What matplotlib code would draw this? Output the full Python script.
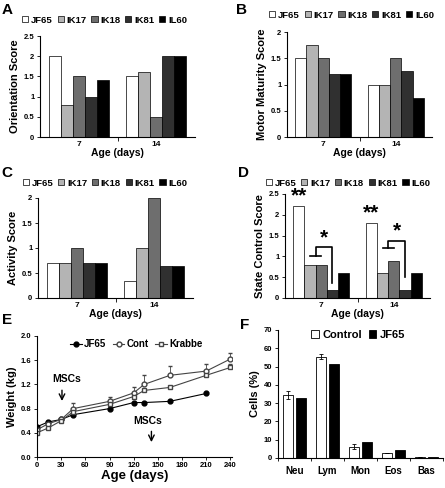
import matplotlib
matplotlib.use('Agg')
import matplotlib.pyplot as plt
from matplotlib.patches import Patch
from matplotlib.lines import Line2D
from matplotlib.ticker import FuncFormatter
import numpy as np

plt.rcParams['font.family'] = ['Liberation Sans', 'DejaVu Sans']
plt.rcParams['font.weight'] = 'bold'
plt.rcParams['axes.labelweight'] = 'bold'

# datos de los paneles de barras (A-D)
ages = ['7', '14']
strains = ['JF65', 'IK17', 'IK18', 'IK81', 'IL60']
strain_colors = ['white', '#b4b4b4', '#6e6e6e', '#303030', 'black']

orientation = [[2.0, 1.5], [0.8, 1.6], [1.5, 0.5], [1.0, 2.0], [1.4, 2.0]]
motor = [[1.5, 1.0], [1.75, 1.0], [1.5, 1.5], [1.2, 1.25], [1.2, 0.75]]
activity = [[0.7, 0.35], [0.7, 1.0], [1.0, 2.0], [0.7, 0.65], [0.7, 0.65]]
state_control = [[2.2, 1.8], [0.8, 0.6], [0.8, 0.9], [0.2, 0.2], [0.6, 0.6]]

# datos del panel E (peso)
days_jf65 = [0, 14, 30, 45, 90, 120, 133, 165, 210]
weight_jf65 = [0.50, 0.58, 0.62, 0.70, 0.80, 0.90, 0.90, 0.92, 1.05]
days_ctrl = [0, 14, 30, 45, 90, 120, 133, 165, 210, 240]
weight_cont = [0.45, 0.55, 0.62, 0.80, 0.92, 1.06, 1.20, 1.35, 1.42, 1.62]
err_cont = [0.0, 0.0, 0.0, 0.10, 0.07, 0.09, 0.15, 0.15, 0.11, 0.10]
weight_krabbe = [0.40, 0.48, 0.60, 0.75, 0.87, 1.00, 1.10, 1.15, 1.35, 1.48]
err_krabbe = [0.0, 0.0, 0.0, 0.0, 0.0, 0.0, 0.0, 0.0, 0.0, 0.05]

# datos del panel F (celulas)
cell_types = ['Neu', 'Lym', 'Mon', 'Eos', 'Bas']
cells_control = [34.5, 55.5, 6.2, 2.8, 0.5]
cells_control_err = [2.2, 1.5, 1.5, 0.2, 0.2]
cells_jf65 = [33.0, 51.5, 8.8, 4.5, 0.5]

W, H = 445, 488
fig = plt.figure(figsize=(W / 100, H / 100), dpi=100)


# convierte una caja en pixeles a coordenadas de figura
def px_axes(left, top, right, bottom):
    return fig.add_axes([left / W, 1 - bottom / H, (right - left) / W, (bottom - top) / H])


def style_axes(ax):
    ax.spines['top'].set_visible(False)
    ax.spines['right'].set_visible(False)
    for s in ['left', 'bottom']:
        ax.spines[s].set_linewidth(0.8)
    ax.tick_params(axis='y', labelsize=5.5, length=2, width=0.6, pad=2)
    ax.yaxis.set_major_formatter(FuncFormatter(lambda v, p: '%g' % v))


# grafico de barras agrupadas por edad
def bar_panel(ax, values, ylabel, ymax, ystep, legend_xy):
    w = 0.155
    x = np.arange(len(ages))
    for i, vals in enumerate(values):
        ax.bar(x + (i - 2) * w, vals, w, color=strain_colors[i], edgecolor='black', linewidth=0.5)
    ax.set_xlim(-0.5, 1.5)
    ax.set_ylim(0, ymax)
    ax.set_yticks(np.arange(0, ymax + 0.001, ystep))
    style_axes(ax)
    ax.set_xticks([0.5])
    ax.set_xticklabels([])
    ax.set_xticks(x, minor=True)
    ax.set_xticklabels(ages, minor=True, fontsize=6)
    ax.tick_params(axis='x', which='major', length=3, width=0.6)
    ax.tick_params(axis='x', which='minor', length=0, pad=3)
    ax.set_ylabel(ylabel, fontsize=8, labelpad=3)
    ax.set_xlabel('Age (days)', fontsize=7.5, labelpad=0)
    handles = [Patch(facecolor=c, edgecolor='black', linewidth=0.5) for c in strain_colors]
    fig.legend(handles, strains, loc='center', bbox_to_anchor=legend_xy, ncol=5, frameon=False,
               fontsize=6.8, handlelength=0.65, handleheight=0.65, handletextpad=0.3,
               columnspacing=0.5, borderpad=0)


axA = px_axes(40, 36, 195, 137)
bar_panel(axA, orientation, 'Orientation Score', 2.5, 0.5, (0.235, 0.959))

axB = px_axes(287, 32, 432, 137)
bar_panel(axB, motor, 'Motor Maturity Score', 2.0, 0.5, (0.79, 0.969))

axC = px_axes(38, 198, 193, 298)
bar_panel(axC, activity, 'Activity Score', 2.0, 0.5, (0.236, 0.625))

axD = px_axes(285, 194, 430, 298)
bar_panel(axD, state_control, 'State Control Score', 2.5, 0.5, (0.782, 0.625))

# anotaciones de significancia en D
w = 0.155
for g, (low, top, down, star) in enumerate([(1.02, 1.22, 0.35, 1.47), (1.19, 1.38, 0.5, 1.64)]):
    ax = axD
    ax.text(g - 2 * w, state_control[0][g] + 0.02, '**', ha='center', va='bottom', fontsize=15)
    x1, x2, x3 = g - w, g, g + w
    xm = (x1 + x2) / 2
    ax.plot([x1, x2], [low, low], color='black', lw=1.2)
    ax.plot([xm, xm, x3, x3], [low, top, top, down], color='black', lw=1.2)
    ax.text((xm + x3) / 2, star - 0.25, '*', ha='center', va='bottom', fontsize=15)

# panel E: peso vs edad
axE = px_axes(37, 336, 232, 457)
axE.plot(days_jf65, weight_jf65, '-o', color='black', ms=3.5, lw=0.8, label='JF65')
axE.errorbar(days_ctrl, weight_cont, yerr=[np.zeros(len(err_cont)), err_cont], fmt='-o', color='#444444',
             mfc='white', mec='#444444', ms=3.5, lw=0.8, elinewidth=0.6, capsize=1.5, label='Cont')
axE.errorbar(days_ctrl, weight_krabbe, yerr=[np.zeros(len(err_krabbe)), err_krabbe], fmt='-s', color='#444444',
             mfc='white', mec='#444444', ms=3.2, lw=0.8, elinewidth=0.6, capsize=1.5, label='Krabbe')
axE.set_xlim(0, 242)
axE.set_ylim(0, 2.0)
axE.set_xticks(np.arange(0, 241, 30))
axE.set_yticks(np.arange(0, 2.01, 0.4))
style_axes(axE)
axE.yaxis.set_major_formatter(FuncFormatter(lambda v, p: '%.1f' % v))
axE.tick_params(axis='x', labelsize=5.5, length=2, width=0.6, pad=1.5)
axE.set_ylabel('Weight (kg)', fontsize=8, labelpad=3)
axE.set_xlabel('Age (days)', fontsize=9.5, labelpad=1)
axE.annotate('', xy=(31, 0.88), xytext=(31, 1.15),
             arrowprops=dict(arrowstyle='->', color='black', lw=1.0))
axE.text(37, 1.2, 'MSCs', ha='center', va='bottom', fontsize=7.5)
axE.annotate('', xy=(142, 0.2), xytext=(142, 0.47),
             arrowprops=dict(arrowstyle='->', color='black', lw=1.0))
axE.text(137, 0.52, 'MSCs', ha='center', va='bottom', fontsize=7.5)
e_handles = [Line2D([], [], color='black', marker='o', ms=3.5, lw=0.8),
             Line2D([], [], color='#444444', marker='o', mfc='white', ms=3.5, lw=0.8),
             Line2D([], [], color='#444444', marker='s', mfc='white', ms=3.2, lw=0.8)]
fig.legend(e_handles, ['JF65', 'Cont', 'Krabbe'], loc='center', bbox_to_anchor=(0.306, 0.295), ncol=3,
           frameon=False, fontsize=7, handlelength=1.2, handletextpad=0.2, columnspacing=0.7, borderpad=0)

# panel F: porcentaje de celulas
axF = px_axes(278, 330, 443, 458)
xf = np.arange(len(cell_types))
axF.bar(xf - 0.185, cells_control, 0.3, color='white', edgecolor='black', linewidth=0.6,
        yerr=cells_control_err, error_kw=dict(elinewidth=0.6, capsize=1.5, capthick=0.6))
axF.bar(xf + 0.185, cells_jf65, 0.3, color='black', edgecolor='black', linewidth=0.6)
axF.set_xlim(-0.5, 4.5)
axF.set_ylim(0, 70)
axF.set_yticks(np.arange(0, 71, 10))
style_axes(axF)
axF.set_xticks(np.arange(-0.5, 4.6, 1))
axF.set_xticklabels([])
axF.set_xticks(xf, minor=True)
axF.set_xticklabels(cell_types, minor=True, fontsize=7)
axF.tick_params(axis='x', which='major', length=2, width=0.6)
axF.tick_params(axis='x', which='minor', length=0, pad=6)
axF.set_ylabel('Cells (%)', fontsize=8, labelpad=3)
f_handles = [Patch(facecolor='white', edgecolor='black', linewidth=0.6),
             Patch(facecolor='black', edgecolor='black', linewidth=0.6)]
fig.legend(f_handles, ['Control', 'JF65'], loc='center', bbox_to_anchor=(0.805, 0.314), ncol=2,
           frameon=False, fontsize=8, handlelength=0.7, handleheight=0.7, handletextpad=0.3,
           columnspacing=0.6, borderpad=0)

# letras de los paneles
for lbl, px, py in [('A', 7, 10), ('B', 242, 10), ('C', 7, 173), ('D', 243, 173), ('E', 7, 320), ('F', 245, 325)]:
    fig.text(px / W, 1 - py / H, lbl, fontsize=11, fontweight='bold', ha='center', va='center')

fig.savefig('out.png', dpi=100)
